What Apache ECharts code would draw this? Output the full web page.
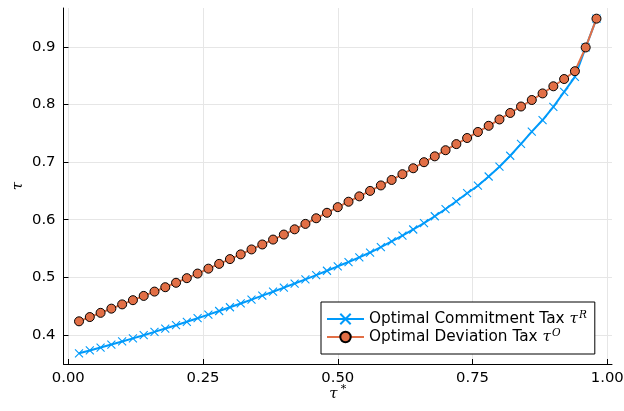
<!DOCTYPE html>
<html>
<head>
<meta charset="utf-8">
<script src="https://cdn.jsdelivr.net/npm/echarts@6/dist/echarts.min.js"></script>
<style>
  html, body { margin: 0; padding: 0; background: #fff; }
  #chart { width: 624px; height: 411px; }
</style>
</head>
<body>
<div id="chart"></div>
<script>
// Benchmark tax rate tau* on the horizontal axis
const tauStar = [
  0.02, 0.04, 0.06, 0.08, 0.10, 0.12, 0.14, 0.16, 0.18, 0.20,
  0.22, 0.24, 0.26, 0.28, 0.30, 0.32, 0.34, 0.36, 0.38, 0.40,
  0.42, 0.44, 0.46, 0.48, 0.50, 0.52, 0.54, 0.56, 0.58, 0.60,
  0.62, 0.64, 0.66, 0.68, 0.70, 0.72, 0.74, 0.76, 0.78, 0.80,
  0.82, 0.84, 0.86, 0.88, 0.90, 0.92, 0.94, 0.96, 0.98
];

// Optimal commitment tax tau^R
const commitmentTax = [
  0.3681, 0.3730, 0.3781, 0.3833, 0.3886, 0.3940, 0.3995, 0.4052, 0.4110, 0.4168,
  0.4228, 0.4290, 0.4352, 0.4415, 0.4480, 0.4546, 0.4613, 0.4681, 0.4750, 0.4821,
  0.4892, 0.4965, 0.5039, 0.5114, 0.5191, 0.5265, 0.5345, 0.5430, 0.5525, 0.5625,
  0.5725, 0.5830, 0.5940, 0.6060, 0.6185, 0.6320, 0.6460, 0.6590, 0.6750, 0.6920,
  0.7110, 0.7315, 0.7530, 0.7730, 0.7960, 0.8220, 0.8480, 0.8990, 0.9490
];

// Optimal deviation tax tau^O
const deviationTax = [
  0.4236, 0.4310, 0.4383, 0.4456, 0.4530, 0.4603, 0.4677, 0.4752, 0.4828, 0.4905,
  0.4985, 0.5065, 0.5150, 0.5233, 0.5316, 0.5398, 0.5484, 0.5570, 0.5655, 0.5742,
  0.5833, 0.5927, 0.6025, 0.6120, 0.6218, 0.6312, 0.6405, 0.6500, 0.6595, 0.6690,
  0.6790, 0.6893, 0.6998, 0.7100, 0.7206, 0.7312, 0.7418, 0.7523, 0.7630, 0.7740,
  0.7853, 0.7965, 0.8078, 0.8192, 0.8316, 0.8442, 0.8578, 0.8990, 0.9490
];

// Axis tick positions
const xTicks = [0, 0.25, 0.5, 0.75, 1.0];
const yTicks = [0.4, 0.5, 0.6, 0.7, 0.8, 0.9];

const seriesNames = ['Optimal Commitment Tax', 'Optimal Deviation Tax'];
const seriesSup = ['R', 'O'];

const BLUE = '#009AFA';
const ORANGE = '#E26F46';
const GRID = '#e6e6e6';
const mathFont = '"DejaVu Serif", serif';
const textFont = '"DejaVu Sans", sans-serif';

const pairs = (ys) => tauStar.map((x, i) => [x, ys[i]]);

const chart = echarts.init(document.getElementById('chart'), null, { renderer: 'canvas' });

chart.setOption({
  animation: false,
  backgroundColor: '#fff',
  grid: { left: 63.5, right: 12, top: 8, bottom: 47, containLabel: false, outerBoundsMode: 'none' },
  xAxis: {
    type: 'value',
    min: -0.0088,
    max: 1.0088,
    name: '{t|τ}{s|*}',
    nameLocation: 'middle',
    nameGap: 20,
    nameMoveOverlap: false,
    nameTextStyle: {
      rich: {
        t: { fontFamily: mathFont, fontStyle: 'italic', fontSize: 15, color: '#000' },
        s: { fontFamily: mathFont, fontSize: 11, color: '#000', padding: [0, 0, 10, 3] }
      }
    },
    axisLine: { show: true, onZero: false, lineStyle: { color: '#000', width: 1 } },
    axisTick: { show: true, inside: true, length: 5, customValues: xTicks, lineStyle: { color: '#000' } },
    axisLabel: {
      customValues: xTicks,
      margin: 7,
      fontFamily: textFont,
      fontSize: 14.8,
      color: '#000',
      formatter: (v) => v.toFixed(2)
    },
    splitLine: { show: true, lineStyle: { color: GRID, width: 1 } }
  },
  yAxis: {
    type: 'value',
    min: 0.3495,
    max: 0.9675,
    name: 'τ',
    nameLocation: 'middle',
    nameGap: 38,
    nameRotate: 90,
    nameMoveOverlap: false,
    nameTextStyle: { fontFamily: mathFont, fontStyle: 'italic', fontSize: 15, color: '#000' },
    axisLine: { show: true, onZero: false, lineStyle: { color: '#000', width: 1 } },
    axisTick: { show: true, inside: true, length: 5, customValues: yTicks, lineStyle: { color: '#000' } },
    axisLabel: {
      customValues: yTicks,
      margin: 8,
      fontFamily: textFont,
      fontSize: 14.8,
      color: '#000',
      formatter: (v) => v.toFixed(1)
    },
    splitLine: { show: true, lineStyle: { color: GRID, width: 1 } }
  },
  legend: {
    orient: 'vertical',
    left: 321,
    top: 302,
    backgroundColor: '#fff',
    borderColor: '#000',
    borderWidth: 1,
    borderRadius: 0,
    padding: [8, 8, 8, 5],
    itemGap: 0,
    itemWidth: 37,
    itemHeight: 13,
    data: seriesNames,
    formatter: (name) => {
      const k = seriesNames.indexOf(name);
      return '{a|' + name + ' }{t|τ}{s|' + seriesSup[k] + '}';
    },
    textStyle: {
      rich: {
        a: { fontFamily: textFont, fontSize: 15.3, color: '#000', lineHeight: 17 },
        t: { fontFamily: mathFont, fontStyle: 'italic', fontSize: 15.3, color: '#000', lineHeight: 17 },
        s: { fontFamily: mathFont, fontStyle: 'italic', fontSize: 10.5, color: '#000', lineHeight: 10, padding: [0, 0, 7, 1] }
      }
    }
  },
  series: [
    {
      name: seriesNames[0],
      type: 'line',
      data: pairs(commitmentTax),
      symbol: 'path://M0,0L10,10M10,0L0,10',
      symbolSize: 8,
      showAllSymbol: true,
      color: BLUE,
      lineStyle: { color: BLUE, width: 2 },
      itemStyle: { color: BLUE, borderColor: BLUE, borderWidth: 1.1 },
      z: 2
    },
    {
      name: seriesNames[1],
      type: 'line',
      data: pairs(deviationTax),
      symbol: 'circle',
      symbolSize: 9,
      showAllSymbol: true,
      color: ORANGE,
      lineStyle: { color: ORANGE, width: 2 },
      itemStyle: { color: ORANGE, borderColor: '#000', borderWidth: 1 },
      z: 3
    }
  ]
});
</script>
</body>
</html>
